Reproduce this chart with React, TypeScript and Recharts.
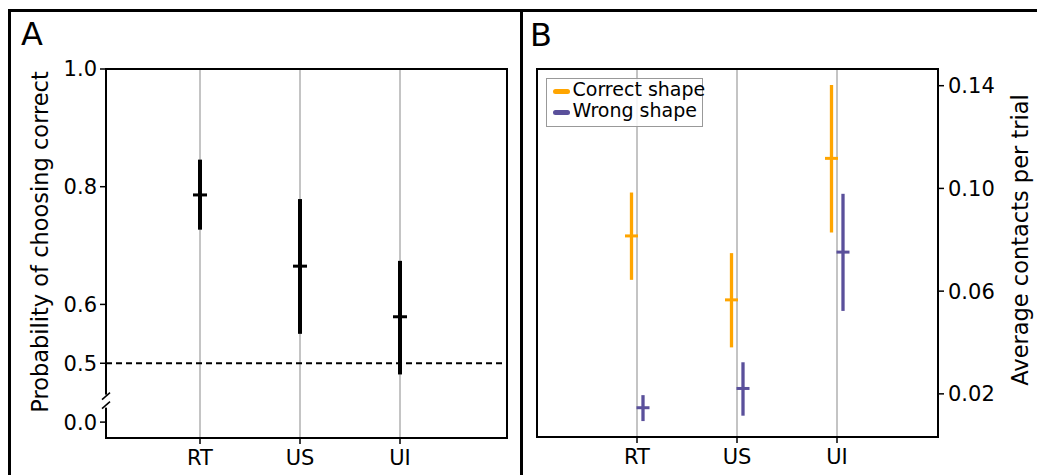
import React from 'react';
import { ScatterChart, Scatter, XAxis, YAxis, CartesianGrid, ErrorBar, ReferenceLine, ReferenceArea, Legend, Label } from 'recharts';

const categories = ['RT', 'US', 'UI'];

// Panel A: probability of choosing correct
const probMean = [0.786, 0.665, 0.579];
const probLow = [0.727, 0.55, 0.481];
const probHigh = [0.846, 0.779, 0.674];

// Panel B: average contacts per trial
const correctMean = [0.0815, 0.0566, 0.1117];
const correctLow = [0.0644, 0.0381, 0.0828];
const correctHigh = [0.0984, 0.0748, 0.1403];

const wrongMean = [0.0146, 0.0221, 0.0752];
const wrongLow = [0.0094, 0.0115, 0.0523];
const wrongHigh = [0.0195, 0.0323, 0.0979];

const probTicks = [0.4, 0.5, 0.6, 0.8, 1.0];
const contactTicks = [0.02, 0.06, 0.1, 0.14];

const FONT = '"DejaVu Sans", sans-serif';
const ORANGE = '#FFA500';
const PURPLE = '#5A509B';
const GRID = '#b0b0b0';

const A_X = [-0.94, 3.07];
const A_Y = [0.373, 1.0];
const B_X = [-1.0, 3.01];
const B_Y = [0.0032, 0.1465];

const toPoints = (mean: number[], low: number[], high: number[], shift: number) =>
  mean.map((m, i) => ({ x: i + shift, y: m, err: [m - low[i], high[i] - m] }));

const probData = toPoints(probMean, probLow, probHigh, 0);
const correctData = toPoints(correctMean, correctLow, correctHigh, -0.055);
const wrongData = toPoints(wrongMean, wrongLow, wrongHigh, 0.06);

const meanTick = (color: string, half: number, w: number) => (props: any) => {
  const { cx, cy } = props;
  return <line x1={cx - half} x2={cx + half} y1={cy} y2={cy} stroke={color} strokeWidth={w} />;
};

const tickStyle = { fill: '#000', fontSize: 21, fontFamily: FONT };
const tickLine = { stroke: '#000', strokeWidth: 1.5 };

const renderLegend = (props: any) => {
  const items = (props.payload || []).map((p: any) => ({ label: p.value, color: p.color }));
  return (
    <div style={{ position: 'relative', width: 157, height: 49, boxSizing: 'border-box', border: '1.5px solid #999', background: 'rgba(255,255,255,0.85)', fontFamily: FONT }}>
      {items.map((it: any, i: number) => (
        <React.Fragment key={it.label}>
          <div style={{ position: 'absolute', left: 6, top: 10.5 + i * 20.8, width: 17, height: 5, borderRadius: 3, background: it.color }} />
          <div style={{ position: 'absolute', left: 26, top: 1.5 + i * 20.8, fontSize: 19, lineHeight: '19px', whiteSpace: 'nowrap', color: '#000' }}>{it.label}</div>
        </React.Fragment>
      ))}
    </div>
  );
};

const App: React.FC = () => {
  return (
    <div style={{ position: 'absolute', left: 0, top: 0, width: 1037, height: 475, background: '#fff', overflow: 'hidden', fontFamily: FONT }}>
      {/* Panel A */}
      <div style={{ position: 'absolute', left: 0, top: 0 }}>
        <ScatterChart width={520} height={475} margin={{ top: 69, right: 13, bottom: 0, left: 0 }}>
          <CartesianGrid horizontal={false} stroke={GRID} strokeWidth={1.5} />
          <XAxis type="number" dataKey="x" domain={A_X} ticks={[0, 1, 2]} interval={0} allowDataOverflow
            tickFormatter={(v: number) => categories[v]} height={37} axisLine={false}
            tickLine={tickLine} tickSize={6} tickMargin={6} tick={tickStyle} />
          <YAxis type="number" dataKey="y" domain={A_Y} ticks={probTicks} interval={0} allowDataOverflow
            tickFormatter={(v: number) => (v === 0.4 ? '0.0' : v.toFixed(1))} width={106} axisLine={false}
            tickLine={tickLine} tickSize={6} tickMargin={3} tick={tickStyle}>
            <Label content={() => (
              <text transform="translate(47.5,242) rotate(-90)" textAnchor="middle" fontSize={22.5} fontFamily={FONT} fill="#000">
                Probability of choosing correct
              </text>
            )} />
          </YAxis>
          <ReferenceArea x1={A_X[0]} x2={A_X[1]} y1={A_Y[0]} y2={A_Y[1]} fill="none" stroke="#000" strokeWidth={2} ifOverflow="visible" />
          <ReferenceLine y={0.5} stroke="#000" strokeWidth={2} strokeDasharray="6 4" />
          {/* axis break */}
          <ReferenceLine segment={[{ x: A_X[0], y: 0.4246 }, { x: A_X[0], y: 0.4467 }]} stroke="#fff" strokeWidth={5} ifOverflow="visible" />
          <ReferenceLine segment={[{ x: -0.98, y: 0.4382 }, { x: -0.9, y: 0.4501 }]} stroke="#000" strokeWidth={1.5} ifOverflow="visible" />
          <ReferenceLine segment={[{ x: -0.98, y: 0.4229 }, { x: -0.9, y: 0.4348 }]} stroke="#000" strokeWidth={1.5} ifOverflow="visible" />
          <Scatter data={probData} fill="#000" shape={meanTick('#000', 7, 3)} isAnimationActive={false}>
            <ErrorBar dataKey="err" direction="y" width={0} stroke="#000" strokeWidth={4} isAnimationActive={false} />
          </Scatter>
        </ScatterChart>
      </div>

      {/* Panel B */}
      <div style={{ position: 'absolute', left: 520, top: 0 }}>
        <ScatterChart width={517} height={475} margin={{ top: 69, right: 0, bottom: 0, left: 17 }}>
          <CartesianGrid horizontal={false} stroke={GRID} strokeWidth={1.5} />
          <XAxis type="number" dataKey="x" domain={B_X} ticks={[0, 1, 2]} interval={0} allowDataOverflow
            tickFormatter={(v: number) => categories[v]} height={38} axisLine={false}
            tickLine={tickLine} tickSize={6} tickMargin={6} tick={tickStyle} />
          <YAxis type="number" dataKey="y" orientation="right" domain={B_Y} ticks={contactTicks} interval={0} allowDataOverflow
            tickFormatter={(v: number) => v.toFixed(2)} width={99} axisLine={false}
            tickLine={tickLine} tickSize={6} tickMargin={4} tick={tickStyle}>
            <Label content={() => (
              <text transform="translate(508,240) rotate(-90)" textAnchor="middle" fontSize={22.5} fontFamily={FONT} fill="#000">
                Average contacts per trial
              </text>
            )} />
          </YAxis>
          <ReferenceArea x1={B_X[0]} x2={B_X[1]} y1={B_Y[0]} y2={B_Y[1]} fill="none" stroke="#000" strokeWidth={2} ifOverflow="visible" />
          <Legend content={renderLegend} layout="horizontal" verticalAlign="middle" align="center"
            width={160} height={50} wrapperStyle={{ left: 25.5, top: 77.5 }} />
          <Scatter name="Correct shape" data={correctData} fill={ORANGE} shape={meanTick(ORANGE, 6.5, 3)} isAnimationActive={false}>
            <ErrorBar dataKey="err" direction="y" width={0} stroke={ORANGE} strokeWidth={3.3} isAnimationActive={false} />
          </Scatter>
          <Scatter name="Wrong shape" data={wrongData} fill={PURPLE} shape={meanTick(PURPLE, 6.5, 3)} isAnimationActive={false}>
            <ErrorBar dataKey="err" direction="y" width={0} stroke={PURPLE} strokeWidth={3.3} isAnimationActive={false} />
          </Scatter>
        </ScatterChart>
      </div>

      {/* figure frame */}
      <div style={{ position: 'absolute', left: 8, top: 9, width: 1029, height: 466, boxSizing: 'border-box', borderTop: '3px solid #000', borderLeft: '3px solid #000', pointerEvents: 'none' }} />
      <div style={{ position: 'absolute', left: 520, top: 9, width: 3, height: 466, background: '#000', pointerEvents: 'none' }} />
      <div style={{ position: 'absolute', left: 21, top: 18, fontSize: 32, lineHeight: '32px', color: '#000' }}>A</div>
      <div style={{ position: 'absolute', left: 530, top: 18.6, fontSize: 32, lineHeight: '32px', color: '#000' }}>B</div>
    </div>
  );
};

export default App;
